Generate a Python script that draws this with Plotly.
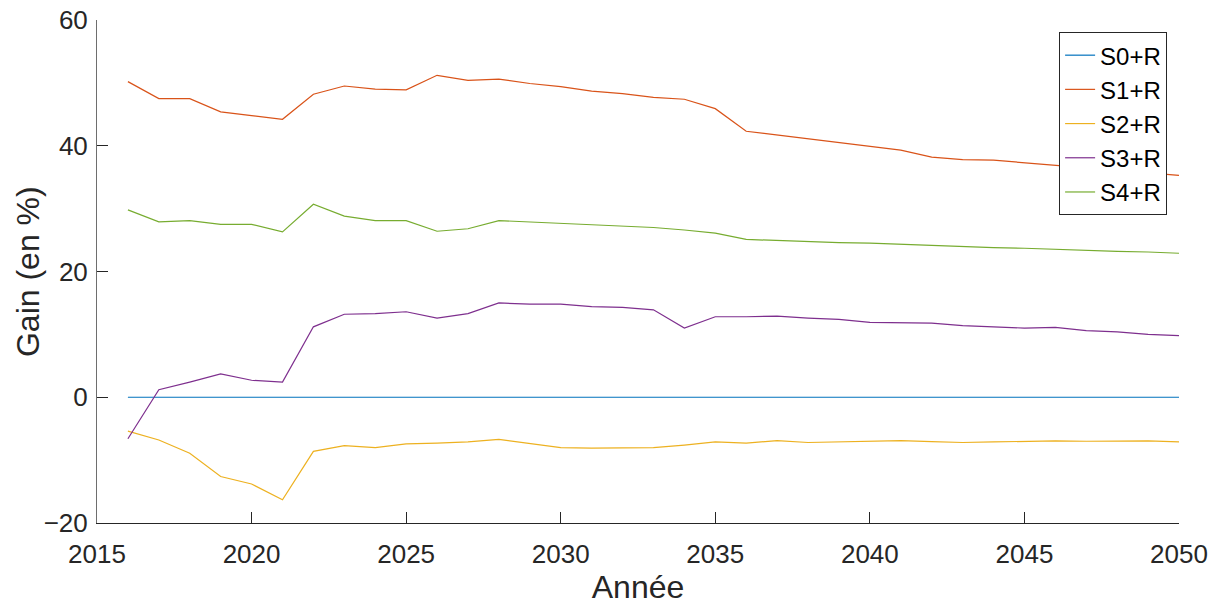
import plotly.graph_objects as go

years = list(range(2016, 2051))

s0 = [0.0] * 35
s1 = [50.2, 47.5, 47.5, 45.4, 44.8, 44.2, 48.2, 49.5, 49.0, 48.9,
      51.2, 50.4, 50.6, 49.9, 49.4, 48.7, 48.3, 47.7, 47.4, 45.9,
      42.3, 41.7, 41.1, 40.6, 40.0, 39.3, 38.2, 37.8, 37.7, 37.3,
      36.9, 36.5, 36.1, 35.7, 35.3]
s2 = [-5.4, -6.8, -8.9, -12.6, -13.8, -16.3, -8.6, -7.7, -8.0, -7.4,
      -7.3, -7.1, -6.7, -7.3, -8.0, -8.1, -8.05, -8.0, -7.6, -7.1,
      -7.3, -6.9, -7.2, -7.1, -6.9, -6.9, -7.05, -7.2, -7.1, -7.0,
      -6.95, -7.0, -7.0, -6.95, -7.1]
s3 = [-6.6, 1.2, 2.4, 3.7, 2.7, 2.4, 11.2, 13.2, 13.3, 13.6,
      12.6, 13.3, 15.0, 14.8, 14.8, 14.4, 14.3, 13.9, 11.0, 12.8,
      12.8, 12.9, 12.6, 12.4, 11.9, 11.9, 11.8, 11.4, 11.2, 11.0,
      11.1, 10.6, 10.4, 10.0, 9.8]
s4 = [29.8, 27.9, 28.1, 27.5, 27.5, 26.3, 30.7, 28.8, 28.1, 28.1,
      26.4, 26.8, 28.1, 27.9, 27.7, 27.5, 27.3, 27.0, 26.6, 26.1,
      25.1, 24.9, 24.7, 24.6, 24.5, 24.3, 24.1, 24.0, 23.8, 23.7,
      23.5, 23.4, 23.2, 23.1, 22.9]

names = ["S0+R", "S1+R", "S2+R", "S3+R", "S4+R"]
series = [s0, s1, s2, s3, s4]
colors = ["#0072BD", "#D95319", "#EDB120", "#7E2F8E", "#77AC30"]
x_title = "Année"
y_title = "Gain (en %)"

fig = go.Figure()
for n, s, c in zip(names, series, colors):
    fig.add_trace(go.Scatter(x=years, y=s, name=n, mode="lines",
                             line=dict(color=c, width=1.2)))

axcol = "#262626"
fig.update_layout(
    width=1220, height=605,
    margin=dict(l=97, r=41, t=20, b=82),
    paper_bgcolor="white", plot_bgcolor="white",
    font=dict(family="Liberation Sans, Arial, sans-serif", size=26, color=axcol),
    showlegend=True,
    legend=dict(x=0.989, y=0.976, xanchor="right", yanchor="top",
                bgcolor="white", bordercolor=axcol, borderwidth=1,
                font=dict(size=24, color="black"), itemwidth=30),
    xaxis=dict(range=[2015, 2050], tick0=2015, dtick=5, ticks="inside",
               ticklen=11, tickcolor=axcol, showline=True, linecolor=axcol,
               linewidth=1, showgrid=False, zeroline=False, automargin=False,
               ticklabelstandoff=8, ticklabeloverflow="allow",
               title=dict(text=x_title, font=dict(size=32), standoff=12)),
    yaxis=dict(range=[-20, 60], tick0=-20, dtick=20, ticks="inside",
               ticklen=11, tickcolor=axcol, showline=True, linecolor="#6e6e6e",
               linewidth=1, showgrid=False, zeroline=False, automargin=False,
               ticklabelstandoff=3, ticklabeloverflow="allow"),
    annotations=[dict(text=y_title, xref="paper", yref="paper",
                      x=-0.0642, y=0.5, xanchor="center", yanchor="middle",
                      textangle=-90, showarrow=False,
                      font=dict(size=32, color=axcol))],
)

fig.write_html("out.html",
               config={"displayModeBar": False},
               post_script="document.body.style.margin='0';"
                           "document.body.style.overflow='hidden';")
